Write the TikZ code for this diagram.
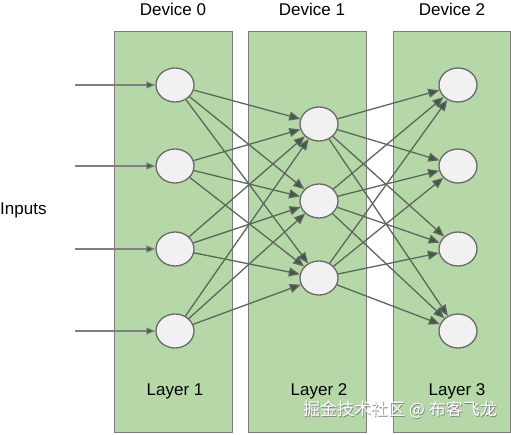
\documentclass[tikz,border=0pt]{standalone}
\usepackage{fontspec}
\setmainfont{Liberation Sans}
\newfontfamily\cjkfont{Noto Sans CJK SC}
\usetikzlibrary{arrows.meta,shapes.geometric}
\definecolor{boxgreen}{HTML}{B6D7A8}
\definecolor{boxline}{HTML}{7C7C7C}
\definecolor{nodefill}{HTML}{F1F1F1}
\definecolor{nodeline}{HTML}{676B67}
\definecolor{edgegray}{HTML}{5C685C}
\definecolor{tipgray}{HTML}{4A524A}

\begin{document}
\begin{tikzpicture}[x=1pt,y=-1pt]
	\tikzstyle{none}=[inner sep=0pt]
	\tikzstyle{device}=[draw=boxline,fill=boxgreen,line width=1.000]
	\tikzstyle{neuron}=[ellipse,draw=nodeline,fill=nodefill,line width=1.300,minimum width=38pt,minimum height=34pt,inner sep=0pt]
	\tikzstyle{edge}=[-{Triangle[length=11pt,width=9pt,fill=tipgray]},draw=edgegray,line width=1.300]
	\tikzstyle{input}=[-{Triangle[length=9pt,width=7pt,fill=tipgray]},draw=gray,line width=1.100]
	\tikzstyle{label}=[inner sep=0pt,font=\fontsize{17}{20}\selectfont]
		\useasboundingbox (0,0) rectangle (511,434);

		\draw [style=device] (114,31) rectangle (232,432);
		\draw [style=device] (248,31) rectangle (366,432);
		\draw [style=device] (393,31) rectangle (510,432);

		\node [style=label, anchor=base] (dev0) at (173,15.5) {Device 0};
		\node [style=label, anchor=base] (dev1) at (312,15.5) {Device 1};
		\node [style=label, anchor=base] (dev2) at (452,15.5) {Device 2};
		\node [style=label, anchor=base] (lay1) at (175,395) {Layer 1};
		\node [style=label, anchor=base] (lay2) at (319,395) {Layer 2};
		\node [style=label, anchor=base] (lay3) at (457,395) {Layer 3};
		\node [style=label, anchor=base west] (inputs) at (0,214) {Inputs};

		\node [style=neuron] (a1) at (175,85) {};
		\node [style=neuron] (a2) at (175,166) {};
		\node [style=neuron] (a3) at (175,249) {};
		\node [style=neuron] (a4) at (175,331) {};
		\node [style=neuron] (b1) at (319,124) {};
		\node [style=neuron] (b2) at (319,201) {};
		\node [style=neuron] (b3) at (319,278) {};
		\node [style=neuron] (c1) at (458,85) {};
		\node [style=neuron] (c2) at (458,166) {};
		\node [style=neuron] (c3) at (458,249) {};
		\node [style=neuron] (c4) at (458,331) {};

		\coordinate (i1) at (75,85);
		\coordinate (i2) at (75,166);
		\coordinate (i3) at (75,249);
		\coordinate (i4) at (75,331);

		\draw [style=input] (i1) to (a1);
		\draw [style=input] (i2) to (a2);
		\draw [style=input] (i3) to (a3);
		\draw [style=input] (i4) to (a4);

		\draw [style=edge] (a1) to (b1);
		\draw [style=edge] (a1) to (b2);
		\draw [style=edge] (a1) to (b3);
		\draw [style=edge] (a2) to (b1);
		\draw [style=edge] (a2) to (b2);
		\draw [style=edge] (a2) to (b3);
		\draw [style=edge] (a3) to (b1);
		\draw [style=edge] (a3) to (b2);
		\draw [style=edge] (a3) to (b3);
		\draw [style=edge] (a4) to (b1);
		\draw [style=edge] (a4) to (b2);
		\draw [style=edge] (a4) to (b3);

		\draw [style=edge] (b1) to (c1);
		\draw [style=edge] (b1) to (c2);
		\draw [style=edge] (b1) to (c3);
		\draw [style=edge] (b1) to (c4);
		\draw [style=edge] (b2) to (c1);
		\draw [style=edge] (b2) to (c2);
		\draw [style=edge] (b2) to (c3);
		\draw [style=edge] (b2) to (c4);
		\draw [style=edge] (b3) to (c1);
		\draw [style=edge] (b3) to (c2);
		\draw [style=edge] (b3) to (c3);
		\draw [style=edge] (b3) to (c4);

		\node [style=none, text=gray, font=\cjkfont\fontsize{17}{20}\selectfont] (mark0) at (400.7,410.7) {掘金技术社区 @ 布客飞龙};
		\node [style=none, text=white, font=\cjkfont\fontsize{17}{20}\selectfont] (mark) at (400,410) {掘金技术社区 @ 布客飞龙};

\end{tikzpicture}
\end{document}
